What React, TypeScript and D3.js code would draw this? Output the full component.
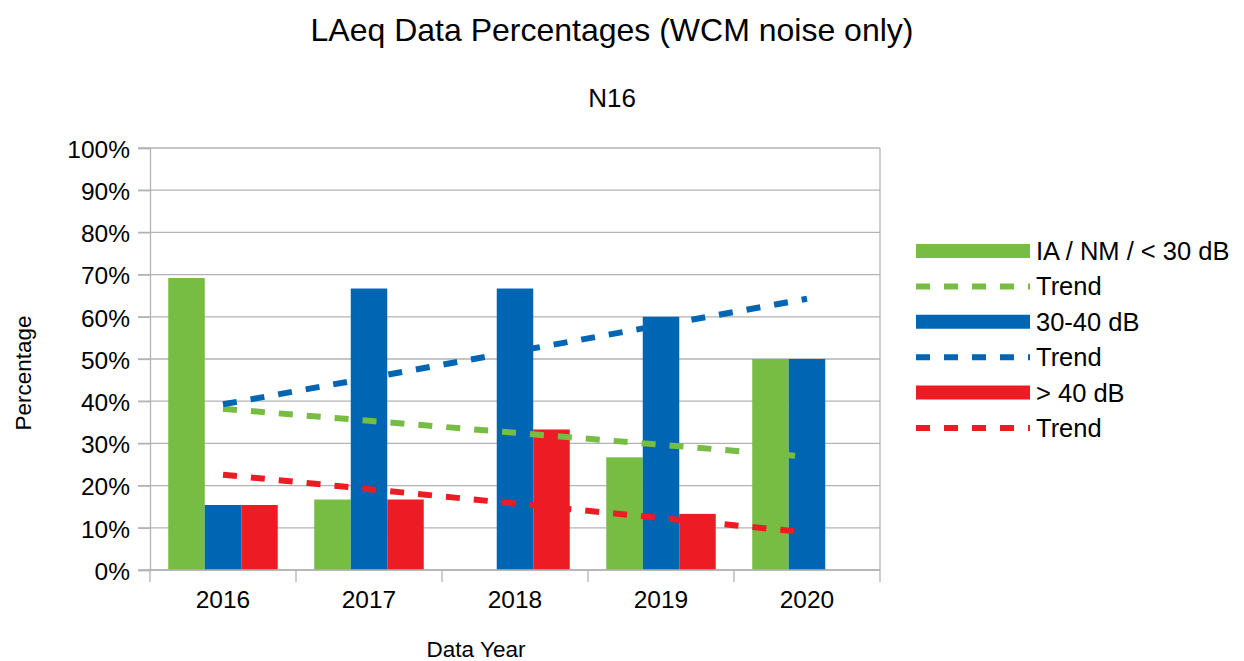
import React, { useEffect, useRef } from "react";
import * as d3 from "d3";

const years = ["2016", "2017", "2018", "2019", "2020"];
const seriesNames = ["IA / NM / < 30 dB", "30-40 dB", "> 40 dB"];
const below30 = [69.2, 16.7, 0, 26.7, 50];
const from30to40 = [15.4, 66.7, 66.7, 60, 50];
const above40 = [15.4, 16.7, 33.3, 13.3, 0];
const colors = ["#77bc43", "#0066b3", "#ed1c24"];
const yTicks = [0, 10, 20, 30, 40, 50, 60, 70, 80, 90, 100];

const W = 1244;
const H = 661;
const FONT = "'Liberation Sans', Arial, sans-serif";

// least squares line over category index
const trend = (vals: number[]) => {
  const xs = vals.map((_, i) => i);
  const mx = d3.mean(xs) as number;
  const my = d3.mean(vals) as number;
  const slope =
    d3.sum(xs, (x, i) => (x - mx) * (vals[i] - my)) /
    d3.sum(xs, (x) => (x - mx) ** 2);
  return xs.map((x) => my + slope * (x - mx));
};

export default function App() {
  const ref = useRef<SVGSVGElement>(null);

  useEffect(() => {
    const svg = d3.select(ref.current);
    svg.selectAll("*").remove();
    svg.attr("font-family", FONT);

    const left = 150, right = 880, top = 148, bottom = 570;
    const series = [below30, from30to40, above40];

    const x = d3.scaleBand().domain(years).range([left, right]);
    const inner = d3
      .scaleBand()
      .domain(d3.range(series.length).map(String))
      .range([x.bandwidth() * 0.125, x.bandwidth() * 0.875]);
    const y = d3.scaleLinear().domain([0, 100]).range([bottom, top]);

    // grid
    svg
      .append("g")
      .selectAll("line")
      .data(yTicks)
      .join("line")
      .attr("x1", left - 12)
      .attr("x2", right)
      .attr("y1", (d) => y(d))
      .attr("y2", (d) => y(d))
      .attr("stroke", "#b3b3b3")
      .attr("stroke-width", 1.3);

    // right side of the wall
    svg
      .append("line")
      .attr("x1", right).attr("x2", right)
      .attr("y1", top).attr("y2", bottom)
      .attr("stroke", "#b3b3b3").attr("stroke-width", 1.3);

    // bars
    series.forEach((vals, s) => {
      svg
        .append("g")
        .selectAll("rect")
        .data(vals)
        .join("rect")
        .attr("x", (d, i) => (x(years[i]) as number) + (inner(String(s)) as number))
        .attr("width", inner.bandwidth())
        .attr("y", (d) => y(d))
        .attr("height", (d) => y(0) - y(d))
        .attr("fill", colors[s]);
    });

    // trend lines
    const line = d3
      .line<number>()
      .x((d, i) => (x(years[i]) as number) + x.bandwidth() / 2)
      .y((d) => y(d));
    series.forEach((vals, s) => {
      svg
        .append("path")
        .attr("d", line(trend(vals)))
        .attr("fill", "none")
        .attr("stroke", colors[s])
        .attr("stroke-width", 6)
        .attr("stroke-dasharray", "14 14");
    });

    // y axis
    const yAxis = d3.axisLeft(y).tickValues(yTicks).tickSize(12).tickFormat((d) => `${d}%`);
    const gy = svg.append("g").attr("transform", `translate(${left},0)`).call(yAxis);
    gy.select(".domain").attr("stroke", "#b3b3b3").attr("stroke-width", 1.3);
    gy.selectAll(".tick line").attr("stroke", "#b3b3b3").attr("stroke-width", 1.3);
    gy.selectAll(".tick text")
      .attr("x", -20)
      .attr("dy", "0.38em")
      .attr("font-size", 24.5)
      .attr("font-family", FONT)
      .attr("fill", "#000");

    // x axis
    const gx = svg.append("g").attr("transform", `translate(0,${bottom})`);
    gx.append("line")
      .attr("x1", left).attr("x2", right)
      .attr("stroke", "#b3b3b3").attr("stroke-width", 1.3);
    const bounds = [...years.map((yr) => x(yr) as number), right];
    gx.selectAll("line.tk")
      .data(bounds)
      .join("line")
      .attr("class", "tk")
      .attr("x1", (d) => d).attr("x2", (d) => d)
      .attr("y1", 0).attr("y2", 12)
      .attr("stroke", "#b3b3b3").attr("stroke-width", 1.3);
    gx.selectAll("text")
      .data(years)
      .join("text")
      .attr("x", (d) => (x(d) as number) + x.bandwidth() / 2)
      .attr("y", 38)
      .attr("text-anchor", "middle")
      .attr("font-size", 24.5)
      .text((d) => d);

    // titles
    svg.append("text")
      .attr("x", 612).attr("y", 41)
      .attr("text-anchor", "middle").attr("font-size", 32)
      .text("LAeq Data Percentages (WCM noise only)");
    svg.append("text")
      .attr("x", 612).attr("y", 107)
      .attr("text-anchor", "middle").attr("font-size", 26)
      .text("N16");
    svg.append("text")
      .attr("x", 476).attr("y", 657)
      .attr("text-anchor", "middle").attr("font-size", 22.5)
      .text("Data Year");
    svg.append("text")
      .attr("transform", "translate(31,373) rotate(-90)")
      .attr("text-anchor", "middle").attr("font-size", 22.5)
      .text("Percentage");

    // legend
    const legendItems = seriesNames.flatMap((name, s) => [
      { name, color: colors[s], dashed: false },
      { name: "Trend", color: colors[s], dashed: true },
    ]);
    const lg = svg
      .append("g")
      .selectAll("g")
      .data(legendItems)
      .join("g")
      .attr("transform", (d, i) => `translate(916,${251 + i * 35.4})`);
    lg.append("line")
      .attr("x1", 0).attr("x2", 114)
      .attr("stroke", (d) => d.color)
      .attr("stroke-width", (d) => (d.dashed ? 6 : 14))
      .attr("stroke-dasharray", (d) => (d.dashed ? "14 14" : null));
    lg.append("text")
      .attr("x", 120).attr("y", 9)
      .attr("font-size", 25.5)
      .text((d) => d.name);
  }, []);

  return (
    <svg
      ref={ref}
      width={W}
      height={H}
      style={{ position: "absolute", left: 0, top: 0, background: "#fff" }}
    />
  );
}
